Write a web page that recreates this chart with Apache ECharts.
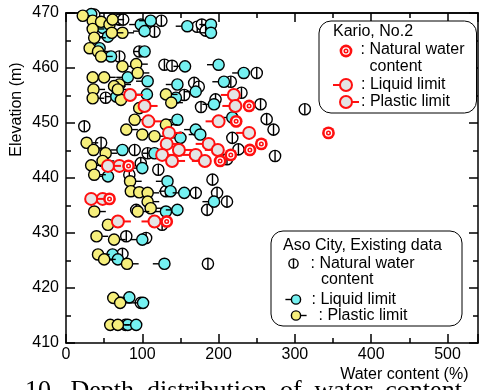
<!DOCTYPE html>
<html>
<head>
<meta charset="utf-8">
<script src="https://cdn.jsdelivr.net/npm/echarts@6/dist/echarts.min.js"></script>
<style>
  html, body { margin: 0; padding: 0; background: #fff; }
  #chart { width: 481px; height: 390px; }
</style>
</head>
<body>
<div id="chart"></div>
<script>
// Aso City, existing data: [water content (%), elevation (m)]
const asoNatural = [
  [37,469.7],[70,468.8],[75,468.8],[125,468.6],[116,466.6],[172,467.5],[178,467.9],[183,466.8],
  [96,463.0],[70,462.1],[129,460.6],[139,460.4],[168,457.3],[250,459.1],[216,457.5],[230,455.5],
  [155,455.1],[174,456.6],[52,454.6],[177,452.9],[196,454.3],[255,453.4],[313,452.5],[263,450.7],
  [272,448.8],[24,449.4],[46,446.4],[90,445.1],[107,444.5],[218,447.3],[226,445.2],[211,443.4],
  [274,444.0],[98,442.7],[121,441.5],[83,440.6],[192,439.7],[131,437.6],[170,437.3],[198,437.3],
  [211,435.7],[185,434.2],[92,434.2],[126,431.5],[79,429.4],[105,429.1],[74,426.2],[186,424.4],
  [98,417.3],[78,413.3]
];
const asoLiquid = [
  [33,469.8],[48,467.3],[55,465.7],[44,463.6],[59,462.1],[98,467.9],[111,468.6],[103,466.7],
  [159,467.6],[190,467.9],[190,466.4],[103,463.0],[156,460.3],[200,460.6],[233,459.1],[207,457.5],
  [81,458.3],[107,457.6],[146,457.0],[170,455.7],[66,454.8],[106,455.2],[144,454.6],[146,450.6],
  [194,453.4],[218,451.0],[170,448.8],[176,447.9],[150,447.3],[74,445.1],[116,444.5],[100,441.8],
  [55,440.3],[133,439.4],[137,437.6],[155,437.3],[194,435.7],[131,433.9],[146,434.2],[100,428.8],
  [61,426.1],[68,425.2],[129,424.4],[83,418.3],[101,417.3],[81,413.3],[92,413.3]
];
const asoPlastic = [
  [22,469.5],[35,468.6],[35,467.1],[46,468.4],[57,467.9],[61,468.8],[74,466.4],[60,466.4],
  [37,465.5],[31,463.6],[42,463.0],[46,462.1],[74,460.3],[92,460.7],[94,459.1],[35,458.3],
  [50,458.3],[70,457.0],[63,456.7],[36,456.1],[35,454.5],[72,454.2],[68,456.1],[131,455.2],
  [138,453.7],[96,452.7],[90,450.6],[79,448.8],[100,447.9],[116,447.6],[131,449.7],[27,446.4],
  [36,445.1],[52,444.5],[48,443.1],[33,442.3],[37,440.6],[84,439.4],[85,437.6],[96,437.4],
  [107,437.3],[107,435.7],[111,434.5],[94,433.9],[37,433.9],[55,431.5],[40,429.4],[63,428.8],
  [42,426.1],[50,425.2],[80,424.4],[62,418.2],[71,417.3],[58,413.3],[68,413.3]
];

// Kario, No.2
const karioPlastic = [
  [84,455.1],[103,453.1],[108,450.3],[135,448.2],[132,446.2],[148,445.1],[126,444.2],[139,443.1],
  [55,442.2],[33,436.2],[68,432.1]
];
const karioLiquid = [
  [220,455.1],[222,453.1],[200,450.3],[240,448.2],[187,446.2],[199,445.1],[170,444.2],[182,443.1],
  [70,442.2],[48,436.2],[116,432.1]
];
const karioNatural = [
  [240,453.1],[223,450.3],[344,448.2],[256,446.2],[241,445.1],[216,444.2],[202,443.1],
  [82,442.2],[57,436.2],[132,432.1]
];

// Axis ticks
const xLabels = [0, 100, 200, 300, 400, 500];
const yLabels = [410, 420, 430, 440, 450, 460, 470];

const FONT = '"Liberation Sans", Arial, sans-serif';
const CYAN = '#74f1f1';
const YELLOW = '#f6ef7c';
const RED = '#ff1010';
const GREY = '#e4e4e4';
const LW = 1.4;

// Shapes for one marker of the given kind, centred at (cx, cy)
function markerShapes(kind, cx, cy, r, z) {
  const stub = r + 6;
  let shapes = [];
  switch (kind) {
    case 'asoNatural':
      shapes = [
        { type: 'circle', shape: { cx, cy, r }, style: { fill: '#fff', stroke: '#000', lineWidth: LW } },
        { type: 'line', shape: { x1: cx, y1: cy - r, x2: cx, y2: cy + r }, style: { stroke: '#000', lineWidth: LW } }
      ];
      break;
    case 'asoLiquid':
      shapes = [
        { type: 'line', shape: { x1: cx - stub, y1: cy, x2: cx - r, y2: cy }, style: { stroke: '#000', lineWidth: LW } },
        { type: 'circle', shape: { cx, cy, r }, style: { fill: CYAN, stroke: '#000', lineWidth: LW } }
      ];
      break;
    case 'asoPlastic':
      shapes = [
        { type: 'line', shape: { x1: cx + r, y1: cy, x2: cx + stub, y2: cy }, style: { stroke: '#000', lineWidth: LW } },
        { type: 'circle', shape: { cx, cy, r }, style: { fill: YELLOW, stroke: '#000', lineWidth: LW } }
      ];
      break;
    case 'karioLiquid':
      shapes = [
        { type: 'line', shape: { x1: cx - stub - 1, y1: cy, x2: cx - r, y2: cy }, style: { stroke: RED, lineWidth: 2 } },
        { type: 'circle', shape: { cx, cy, r }, style: { fill: GREY, stroke: RED, lineWidth: 2 } }
      ];
      break;
    case 'karioPlastic':
      shapes = [
        { type: 'line', shape: { x1: cx + r, y1: cy, x2: cx + stub + 1, y2: cy }, style: { stroke: RED, lineWidth: 2 } },
        { type: 'circle', shape: { cx, cy, r }, style: { fill: GREY, stroke: RED, lineWidth: 2 } }
      ];
      break;
    case 'karioNatural':
      shapes = [
        { type: 'circle', shape: { cx, cy, r: r + 0.8 }, style: { fill: RED } },
        { type: 'circle', shape: { cx, cy, r: r * 0.68 }, style: { fill: '#fff' } },
        { type: 'circle', shape: { cx, cy, r: r * 0.45 }, style: { fill: RED } },
        { type: 'circle', shape: { cx, cy, r: r * 0.18 }, style: { fill: '#fff' } }
      ];
      break;
  }
  if (z != null) {
    shapes.forEach((s, i) => { s.z = z + i * 0.01; });
  }
  return shapes;
}

function markSeries(name, data, kind, r, z) {
  return {
    name, type: 'custom', data, clip: false, z,
    xAxisIndex: 0, yAxisIndex: 0,
    encode: { x: 0, y: 1 },
    renderItem(params, api) {
      const p = api.coord([api.value(0), api.value(1)]);
      return { type: 'group', children: markerShapes(kind, p[0], p[1], r) };
    }
  };
}

const axisLineStyle = { color: '#000', width: 1.5 };
const tickStyle = { color: '#000', width: 1.5 };

function xAxisDef(position, interval, len, labels) {
  return {
    type: 'value', position, min: 0, max: 540, interval,
    axisLine: { show: labels || position === 'top', onZero: false, lineStyle: axisLineStyle },
    axisTick: { show: true, inside: true, length: len, lineStyle: tickStyle },
    axisLabel: {
      show: labels, margin: 4, color: '#000', fontSize: 16, fontFamily: FONT,
      formatter: v => (xLabels.indexOf(v) >= 0 ? String(v) : '')
    },
    splitLine: { show: false }
  };
}

function yAxisDef(position, labels) {
  return {
    type: 'value', position, min: 410, max: 470, interval: 10,
    axisLine: { show: true, onZero: false, lineStyle: axisLineStyle },
    axisTick: { show: true, inside: true, length: 9, lineStyle: tickStyle },
    minorTick: { show: true, splitNumber: 2, length: 5, lineStyle: tickStyle },
    axisLabel: {
      show: labels, margin: 7, color: '#000', fontSize: 16, fontFamily: FONT,
      formatter: v => (yLabels.indexOf(v) >= 0 ? String(v) : '')
    },
    splitLine: { show: false },
    minorSplitLine: { show: false }
  };
}

// Legend graphics (same marker drawing as the plot)
function legendMarker(kind, cx, cy, r) {
  return { type: 'group', z: 130, children: markerShapes(kind, cx, cy, r, 130) };
}
function legendText(text, x, y) {
  return {
    type: 'text', x, y, z: 130,
    style: { text, fill: '#000', font: '16px ' + FONT, textAlign: 'left', textVerticalAlign: 'middle', align: 'left', verticalAlign: 'middle' }
  };
}

const graphics = [
  // Kario legend box
  { type: 'rect', shape: { x: 319, y: 21, width: 157.5, height: 92, r: 12 },
    style: { fill: '#fff', stroke: '#000', lineWidth: 1 }, z: 110 },
  legendText('Kario, No.2', 333, 32),
  legendMarker('karioNatural', 346, 51, 5.6),
  legendText(': Natural water', 360.5, 50),
  legendText('content', 369.5, 67),
  legendMarker('karioLiquid', 346, 85, 6),
  legendText(': Liquid limit', 361, 85),
  legendMarker('karioPlastic', 346, 102, 6),
  legendText(': Plastic limit', 361, 102),

  // Aso legend box
  { type: 'rect', shape: { x: 271, y: 231, width: 191, height: 95, r: 12 },
    style: { fill: '#fff', stroke: '#000', lineWidth: 1 }, z: 110 },
  legendText('Aso City, Existing data', 283, 245.5),
  legendMarker('asoNatural', 293.5, 263.5, 4.6),
  legendText(': Natural water', 310.5, 263.5),
  legendText('content', 321, 279.5),
  legendMarker('asoLiquid', 296, 299.5, 4.6),
  legendText(': Liquid limit', 311.5, 299.5),
  legendMarker('asoPlastic', 296, 315.5, 4.6),
  legendText(': Plastic limit', 318.5, 315.5),

  // Axis titles
  { type: 'text', x: 16.5, y: 109.5, rotation: Math.PI / 2, z: 130,
    style: { text: 'Elevation (m)', fill: '#000', font: '16px ' + FONT, textAlign: 'center', textVerticalAlign: 'middle', align: 'center', verticalAlign: 'middle' } },
  { type: 'text', x: 468.5, y: 375, z: 130,
    style: { text: 'Water content (%)', fill: '#000', font: '16px ' + FONT, textAlign: 'right', textVerticalAlign: 'middle', align: 'right', verticalAlign: 'middle' } },

  // Figure caption (runs off the bottom edge)
  { type: 'text', x: 25, y: 378, z: 130,
    style: { text: '10.  Depth  distribution  of  water  content', fill: '#000', font: '26px "Liberation Serif", "Times New Roman", serif', textAlign: 'left', textVerticalAlign: 'top', align: 'left', verticalAlign: 'top' } }
];

const chart = echarts.init(document.getElementById('chart'), null, { renderer: 'canvas' });
chart.setOption({
  animation: false,
  backgroundColor: '#fff',
  grid: { left: 66, right: 1, top: 13, bottom: 47, containLabel: false },
  xAxis: [
    xAxisDef('bottom', 100, 9, true),
    xAxisDef('bottom', 50, 5, false),
    xAxisDef('top', 100, 9, false),
    xAxisDef('top', 50, 5, false)
  ],
  yAxis: [
    yAxisDef('left', true),
    yAxisDef('right', false)
  ],
  series: [
    markSeries('Aso natural water content', asoNatural, 'asoNatural', 5.6, 10),
    markSeries('Aso liquid limit', asoLiquid, 'asoLiquid', 5.6, 11),
    markSeries('Aso plastic limit', asoPlastic, 'asoPlastic', 5.6, 12),
    markSeries('Kario liquid limit', karioLiquid, 'karioLiquid', 6, 13),
    markSeries('Kario plastic limit', karioPlastic, 'karioPlastic', 6, 14),
    markSeries('Kario natural water content', karioNatural, 'karioNatural', 5.6, 15)
  ],
  graphic: graphics
});
</script>
</body>
</html>
